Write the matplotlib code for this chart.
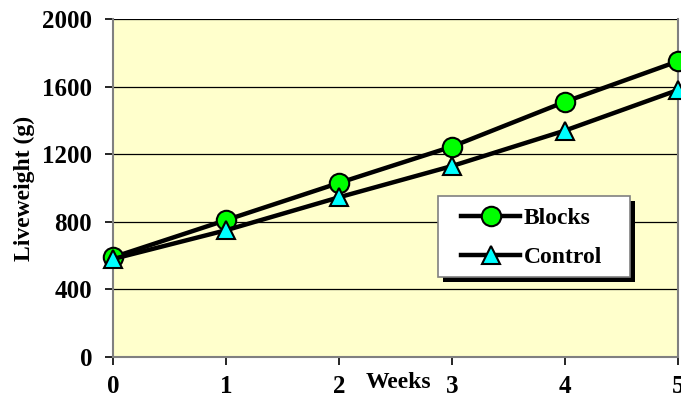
import matplotlib
matplotlib.use("Agg")
import matplotlib.pyplot as plt
from matplotlib.patches import Rectangle

weeks = [0, 1, 2, 3, 4, 5]
blocks = [590, 810, 1030, 1245, 1510, 1750]
control = [580, 750, 945, 1130, 1340, 1580]
yticks = [0, 400, 800, 1200, 1600, 2000]

plt.rcParams['font.family'] = ['Liberation Serif', 'DejaVu Serif']
plt.rcParams['font.weight'] = 'bold'

W, H = 681, 403
fig = plt.figure(figsize=(W/100, H/100), dpi=100)
ax = fig.add_axes([113/W, 46/H, 565/W, 338/H])
ax.set_facecolor('#FFFFCC')

ax.plot(weeks, blocks, color='black', lw=3.2, marker='o', ms=14,
        mfc='#00FF00', mec='black', mew=1.5, label='Blocks', zorder=3, clip_on=False)
ax.plot(weeks, control, color='black', lw=3.2, marker='^', ms=13,
        mfc='#00FFFF', mec='black', mew=1.5, label='Control', zorder=3, clip_on=False)

ax.set_xlim(0, 5)
ax.set_ylim(0, 2000)
ax.set_yticks(yticks)
ax.set_xticks(weeks)
ax.grid(axis='y', color='black', lw=0.9)
ax.set_axisbelow(True)
for s in ['left', 'bottom', 'right']:
    ax.spines[s].set_color('#808080')
    ax.spines[s].set_linewidth(1.5)
ax.spines['top'].set_visible(False)
ax.tick_params(axis='both', direction='out', length=6, width=1.2, color='black',
               labelsize=18)
ax.tick_params(axis='x', pad=7)
ax.tick_params(axis='y', pad=9)
for lab in ax.get_xticklabels() + ax.get_yticklabels():
    lab.set_fontweight('bold')

ax.set_ylabel('Liveweight (g)', fontsize=17, fontweight='bold', labelpad=5)
fig.text(398/W, 1 - 382/H, 'Weeks', fontsize=17, fontweight='bold',
         ha='center', va='center')

# legend box (figure pixel coords -> figure fraction)
bx0, bx1, by0, by1 = 438, 630, 196, 277
fig.patches.append(Rectangle((bx0/W + 5/W, 1 - by1/H - 5/H), (bx1-bx0)/W, (by1-by0)/H,
                             transform=fig.transFigure, facecolor='black',
                             edgecolor='none', zorder=5))
fig.patches.append(Rectangle((bx0/W, 1 - by1/H), (bx1-bx0)/W, (by1-by0)/H,
                             transform=fig.transFigure, facecolor='white',
                             edgecolor='#808080', lw=1.2, zorder=6))

leg = fig.legend(*ax.get_legend_handles_labels(), loc='center left',
                 bbox_to_anchor=(461/W, 1 - 238/H),
                 fontsize=17, frameon=False,
                 handlelength=2.5, borderpad=0, labelspacing=0.72,
                 handletextpad=0.15, borderaxespad=0)
leg.set_zorder(7)
for t in leg.get_texts():
    t.set_fontweight('bold')

fig.savefig('out.png', dpi=100)
